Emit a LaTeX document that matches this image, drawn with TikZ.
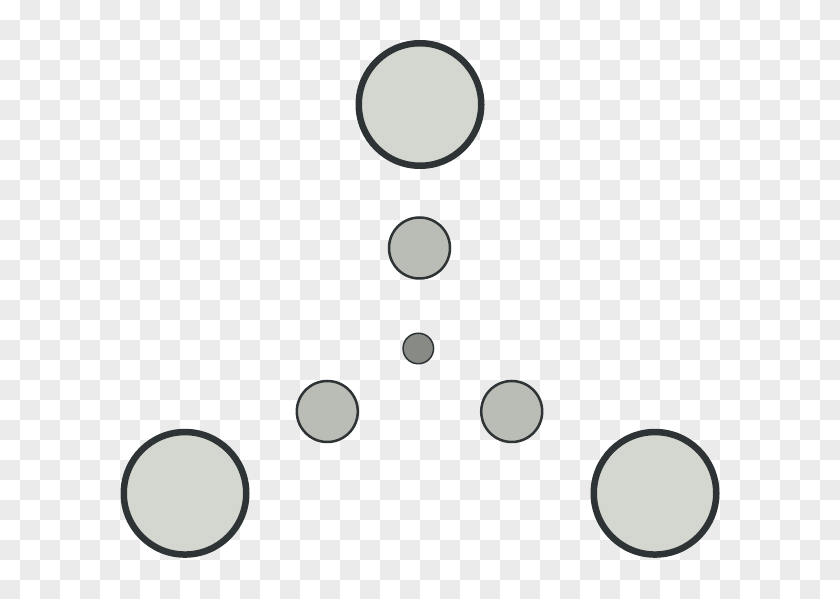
\documentclass[tikz,border=0pt]{standalone}
\definecolor{chk}{HTML}{EBEBEB}
\definecolor{alu1}{HTML}{D3D7CF}
\definecolor{alu2}{HTML}{BABDB6}
\definecolor{alu4}{HTML}{888A85}
\definecolor{alu6}{HTML}{2E3436}
\begin{document}
\begin{tikzpicture}[x=1pt,y=1pt,
  bigc/.style={circle,draw=alu6,fill=alu1,line width=6.5pt,minimum size=122.5pt,inner sep=0pt},
  midc/.style={circle,draw=alu6,fill=alu2,line width=2.5pt,minimum size=61pt,inner sep=0pt},
  smallc/.style={circle,draw=alu6,fill=alu4,line width=1.5pt,minimum size=30.5pt,inner sep=0pt}]
\useasboundingbox (0,0) rectangle (840,599);
\fill[white] (0,0) rectangle (840,599);
\foreach \i in {0,...,41}{
  \foreach \j in {0,...,29}{
    \pgfmathtruncatemacro\p{mod(\i+\j,2)}
    \ifnum\p=1
      \fill[chk] (20*\i,599-20*\j) rectangle (20*\i+20,579-20*\j);
    \fi
  }
}
\node[bigc] (top) at (420,494.5) {};
\node[bigc] (left) at (185,105.7) {};
\node[bigc] (right) at (655,105.7) {};
\node[midc] (mtop) at (419.5,351) {};
\node[midc] (mleft) at (327.3,187.5) {};
\node[midc] (mright) at (511.7,187.5) {};
\node[smallc] (center) at (418.3,250.5) {};
\end{tikzpicture}
\end{document}
